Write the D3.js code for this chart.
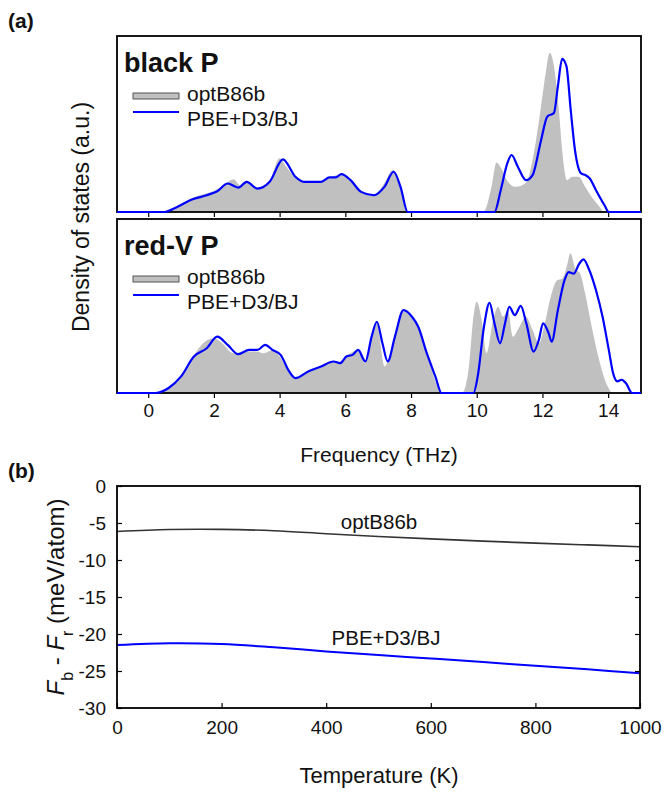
<!DOCTYPE html>
<html>
  <head>
    <meta charset="utf-8">
    <title>Phonon DOS and free energy difference</title>
    <script src="https://d3js.org/d3.v7.min.js"></script>
    <style>
      body { margin: 0; background: #fff; }
      text { font-family: "Liberation Sans", Arial, sans-serif; fill: #111; }
    </style>
  </head>
  <body>
    <div id="chart"></div>
    <script type="text/javascript">
      // ---- data ----
      // black P, optB86b (filled grey)
      var blackOptFreq = [0.45, 0.9, 1.3, 1.75, 2.1, 2.35, 2.6, 2.8, 3.0, 3.3, 3.7, 4.0, 4.2, 4.45, 4.75, 5.25, 5.5, 5.85, 6.15, 6.45, 6.85, 7.15, 7.45, 7.65, 7.9,
                          10.2, 10.45, 10.6, 10.75, 10.95, 11.2, 11.5, 11.7, 11.9, 12.1, 12.22, 12.35, 12.5, 12.6, 12.75, 12.9, 13.1, 13.3, 13.5, 13.7, 13.85];
      var blackOptDos  = [0, 0.17, 0.4, 0.55, 0.68, 0.85, 0.98, 0.8, 0.92, 0.72, 0.95, 1.6, 1.35, 1.05, 0.92, 0.92, 1.02, 1.12, 0.97, 0.62, 0.52, 0.8, 1.25, 0.85, 0,
                          0, 0.75, 1.48, 1.3, 0.9, 0.75, 0.87, 1.55, 2.75, 4.15, 4.75, 4.35, 3.05, 1.85, 0.95, 1.05, 1.05, 0.75, 0.45, 0.2, 0];
      // black P, PBE+D3/BJ (blue line)
      var blackPbeFreq = [-0.95, 0.49, 0.88, 1.33, 1.78, 2.1, 2.42, 2.74, 3.0, 3.32, 3.71, 4.1, 4.48, 4.74, 5.26, 5.52, 5.71, 5.88, 6.16, 6.48, 6.87, 7.19, 7.47, 7.68, 7.9,
                          10.54, 10.73, 10.93, 11.06, 11.25, 11.5, 11.7, 11.96, 12.15, 12.35, 12.47, 12.6, 12.73, 12.86, 12.99, 13.18, 13.31, 13.44, 13.63, 13.89, 14.02, 15.0];
      var blackPbeDos  = [0, 0, 0.15, 0.37, 0.5, 0.62, 0.85, 0.73, 0.9, 0.7, 0.92, 1.57, 1.05, 0.9, 0.9, 1.03, 1.03, 1.13, 0.95, 0.6, 0.5, 0.75, 1.2, 0.75, 0,
                          0, 0.65, 1.45, 1.7, 1.35, 0.95, 1.1, 2.15, 2.85, 2.95, 3.75, 4.57, 4.35, 3.05, 1.85, 1.15, 1.1, 1.0, 0.65, 0.2, 0, 0];

      // red-V P, optB86b (filled grey)
      var redOptFreq = [0.25, 0.7, 1.1, 1.5, 1.8, 2.0, 2.2, 2.6, 3.0, 3.3, 3.5, 3.8, 4.0, 4.3, 4.5, 4.9, 5.3, 5.65, 5.85, 6.05, 6.4, 6.6, 6.85, 6.95, 7.2, 7.4, 7.75, 8.0, 8.3, 8.6, 8.85, 8.95,
                        9.55, 9.75, 9.9, 10.0, 10.15, 10.3, 10.5, 10.65, 10.8, 10.95, 11.1, 11.3, 11.5, 11.7, 11.9, 12.05, 12.25, 12.45, 12.6, 12.75, 12.85, 13.0, 13.15, 13.3, 13.5, 13.7, 13.9, 14.1];
      var redOptDos  = [0, 0.2, 0.6, 1.3, 1.6, 1.65, 1.55, 1.2, 1.25, 1.25, 1.2, 1.3, 1.1, 0.6, 0.45, 0.65, 0.82, 0.95, 0.9, 1.12, 1.3, 0.9, 1.9, 2.15, 0.8, 1.3, 2.45, 2.3, 1.8, 0.8, 0.1, 0,
                        0, 0.7, 2.3, 2.75, 2.2, 1.2, 2.2, 2.6, 2.3, 2.5, 1.7, 2.0, 2.3, 1.9, 1.5, 2.0, 2.9, 3.4, 3.45, 3.85, 4.22, 3.75, 3.6, 3.0, 2.0, 1.1, 0.4, 0];
      // red-V P, PBE+D3/BJ (blue line)
      var redPbeFreq = [-0.95, 0.23, 0.62, 1.0, 1.39, 1.78, 2.1, 2.42, 2.74, 3.07, 3.32, 3.56, 3.78, 4.03, 4.29, 4.48, 4.87, 5.26, 5.64, 5.84, 6.03, 6.22, 6.39, 6.61, 6.8, 6.96, 7.13, 7.29, 7.51, 7.77, 8.03, 8.22, 8.48, 8.74, 8.93,
                        9.9, 10.03, 10.22, 10.39, 10.54, 10.71, 10.86, 10.99, 11.16, 11.34, 11.51, 11.73, 11.89, 12.02, 12.19, 12.28, 12.47, 12.67, 12.8, 12.95, 13.12, 13.25, 13.41, 13.63, 13.83, 14.02, 14.15, 14.28, 14.41, 14.54, 14.73, 15.0];
      var redPbeDos  = [0, 0, 0.15, 0.5, 1.1, 1.35, 1.7, 1.45, 1.17, 1.3, 1.3, 1.45, 1.3, 1.15, 0.65, 0.45, 0.65, 0.8, 0.95, 0.9, 1.1, 1.15, 1.3, 0.95, 1.7, 2.15, 1.5, 0.95, 1.7, 2.5, 2.3, 2.0, 1.2, 0.5, 0,
                        0, 0.5, 2.0, 2.72, 2.1, 1.5, 2.1, 2.6, 2.35, 2.63, 2.1, 1.25, 1.6, 2.1, 1.8, 1.55, 2.5, 3.4, 3.65, 3.6, 3.9, 4.03, 3.75, 3.1, 2.3, 1.3, 0.6, 0.35, 0.4, 0.3, 0, 0];

      var freqTicks = [0, 2, 4, 6, 8, 10, 12, 14];

      // (b) free energy difference vs temperature
      var temps      = [0, 100, 200, 300, 400, 500, 600, 700, 800, 900, 1000];
      var optB86bF   = [-6.15, -5.88, -5.86, -6.05, -6.45, -6.82, -7.15, -7.45, -7.72, -7.96, -8.2];
      var pbeD3F     = [-21.5, -21.25, -21.35, -21.8, -22.35, -22.85, -23.3, -23.78, -24.3, -24.78, -25.3];
      var tempTicks  = [0, 200, 400, 600, 800, 1000];
      var energyTicks = [0, -5, -10, -15, -20, -25, -30];

      var width = 664, height = 792;
      var svg = d3.select('#chart').append('svg')
          .attr('width', width)
          .attr('height', height);

      var blue = '#0000ff';
      var plain = function(d) { return String(d); };

      // ---------- panel (a) ----------
      var x = d3.scaleLinear().domain([-0.95, 15]).range([117, 641]);

      function zip(f, v) { return f.map(function(d, i) { return [d, v[i]]; }); }

      function dosPanel(top, bottom, name, optF, optD, pbeF, pbeD, showLabels, clipId) {
        var y = d3.scaleLinear().domain([0, 5.25]).range([bottom, top]);

        svg.append('clipPath').attr('id', clipId)
          .append('rect').attr('x', x.range()[0]).attr('y', top)
          .attr('width', x.range()[1] - x.range()[0]).attr('height', bottom - top);

        var area = d3.area()
            .x(function(d) { return x(d[0]); })
            .y0(y(0))
            .y1(function(d) { return y(d[1]); })
            .curve(d3.curveMonotoneX);

        svg.append('g').attr('clip-path', 'url(#' + clipId + ')')
          .append('path')
            .datum(zip(optF, optD))
            .attr('d', area)
            .attr('fill', '#c0c0c0');

        // frame
        svg.append('rect')
            .attr('x', x.range()[0]).attr('y', top)
            .attr('width', x.range()[1] - x.range()[0]).attr('height', bottom - top)
            .attr('fill', 'none').attr('stroke', '#000').attr('stroke-width', 1.8);

        var line = d3.line()
            .x(function(d) { return x(d[0]); })
            .y(function(d) { return y(d[1]); })
            .curve(d3.curveMonotoneX);

        svg.append('path')
            .datum(zip(pbeF, pbeD))
            .attr('d', line)
            .attr('fill', 'none')
            .attr('stroke', blue)
            .attr('stroke-width', 2.2);

        var ax = svg.append('g')
            .attr('transform', 'translate(0,' + (bottom + 1) + ')')
            .call(d3.axisBottom(x).tickValues(freqTicks).tickSize(4).tickSizeOuter(0).tickPadding(6)
                  .tickFormat(showLabels ? plain : ''));
        ax.select('.domain').remove();
        ax.selectAll('line').attr('stroke', '#000').attr('stroke-width', 1.2);
        ax.selectAll('text').style('font-size', '19px').style('font-family', '"Liberation Sans", Arial, sans-serif').attr('fill', '#111');

        // title and legend
        svg.append('text').attr('x', 124).attr('y', top + 36)
            .style('font-size', '27px').style('font-weight', 'bold').text(name);

        svg.append('rect').attr('x', 133).attr('y', top + 57).attr('width', 46).attr('height', 6)
            .attr('fill', '#c0c0c0').attr('stroke', '#555').attr('stroke-width', 1);
        svg.append('text').attr('x', 187).attr('y', top + 65)
            .style('font-size', '21px').text('optB86b');

        svg.append('line').attr('x1', 133).attr('x2', 179).attr('y1', top + 76).attr('y2', top + 76)
            .attr('stroke', blue).attr('stroke-width', 2.2);
        svg.append('text').attr('x', 187).attr('y', top + 90)
            .style('font-size', '21px').text('PBE+D3/BJ');
      }

      dosPanel(36, 212, 'black P', blackOptFreq, blackOptDos, blackPbeFreq, blackPbeDos, false, 'clipA1');
      dosPanel(219, 393, 'red-V P', redOptFreq, redOptDos, redPbeFreq, redPbeDos, true, 'clipA2');

      svg.append('text').attr('x', 8).attr('y', 28)
          .style('font-size', '21px').style('font-weight', 'bold').text('(a)');

      svg.append('text')
          .attr('transform', 'translate(89,217) rotate(-90)')
          .attr('text-anchor', 'middle')
          .style('font-size', '23px')
          .text('Density of states (a.u.)');

      svg.append('text').attr('x', 379).attr('y', 462)
          .attr('text-anchor', 'middle').style('font-size', '21px')
          .text('Frequency (THz)');

      // ---------- panel (b) ----------
      var xb = d3.scaleLinear().domain([0, 1000]).range([117, 640]);
      var yb = d3.scaleLinear().domain([-30, 0]).range([708, 486]);

      var lineB = d3.line()
          .x(function(d) { return xb(d[0]); })
          .y(function(d) { return yb(d[1]); })
          .curve(d3.curveCatmullRom.alpha(0.5));

      svg.append('path').datum(zip(temps, optB86bF))
          .attr('d', lineB).attr('fill', 'none')
          .attr('stroke', '#333').attr('stroke-width', 1.6);

      svg.append('path').datum(zip(temps, pbeD3F))
          .attr('d', lineB).attr('fill', 'none')
          .attr('stroke', blue).attr('stroke-width', 2);

      svg.append('rect')
          .attr('x', 117).attr('y', 486).attr('width', 640 - 117).attr('height', 708 - 486)
          .attr('fill', 'none').attr('stroke', '#000').attr('stroke-width', 1.8);

      function styleAxis(a) {
        a.select('.domain').remove();
        a.selectAll('line').attr('stroke', '#000').attr('stroke-width', 1.2);
        a.selectAll('text').style('font-size', '19px').style('font-family', '"Liberation Sans", Arial, sans-serif').attr('fill', '#111');
      }

      var axB = svg.append('g').attr('transform', 'translate(0,708)')
          .call(d3.axisBottom(xb).tickValues(tempTicks).tickSize(-5).tickSizeOuter(0).tickPadding(13)
                .tickFormat(plain));
      styleAxis(axB);

      var axL = svg.append('g').attr('transform', 'translate(117,0)')
          .call(d3.axisLeft(yb).tickValues(energyTicks).tickSize(-5).tickSizeOuter(0).tickPadding(11)
                .tickFormat(plain));
      styleAxis(axL);

      var axR = svg.append('g').attr('transform', 'translate(640,0)')
          .call(d3.axisRight(yb).tickValues(energyTicks).tickSize(-5).tickSizeOuter(0).tickFormat(''));
      styleAxis(axR);

      svg.append('text').attr('x', 379).attr('y', 529)
          .attr('text-anchor', 'middle').style('font-size', '20.5px').text('optB86b');
      svg.append('text').attr('x', 386).attr('y', 645)
          .attr('text-anchor', 'middle').style('font-size', '20.5px').text('PBE+D3/BJ');

      svg.append('text').attr('x', 8).attr('y', 478)
          .style('font-size', '21px').style('font-weight', 'bold').text('(b)');

      var ylab = svg.append('text')
          .attr('transform', 'translate(64,597) rotate(-90)')
          .attr('text-anchor', 'middle')
          .style('font-size', '24px');
      ylab.append('tspan').style('font-style', 'italic').text('F');
      ylab.append('tspan').attr('baseline-shift', 'sub').style('font-size', '16px').text('b');
      ylab.append('tspan').text(' - ');
      ylab.append('tspan').style('font-style', 'italic').text('F');
      ylab.append('tspan').attr('baseline-shift', 'sub').style('font-size', '16px').text('r');
      ylab.append('tspan').text(' (meV/atom)');

      svg.append('text').attr('x', 379).attr('y', 783)
          .attr('text-anchor', 'middle').style('font-size', '22px')
          .text('Temperature (K)');
    </script>
  </body>
</html>
